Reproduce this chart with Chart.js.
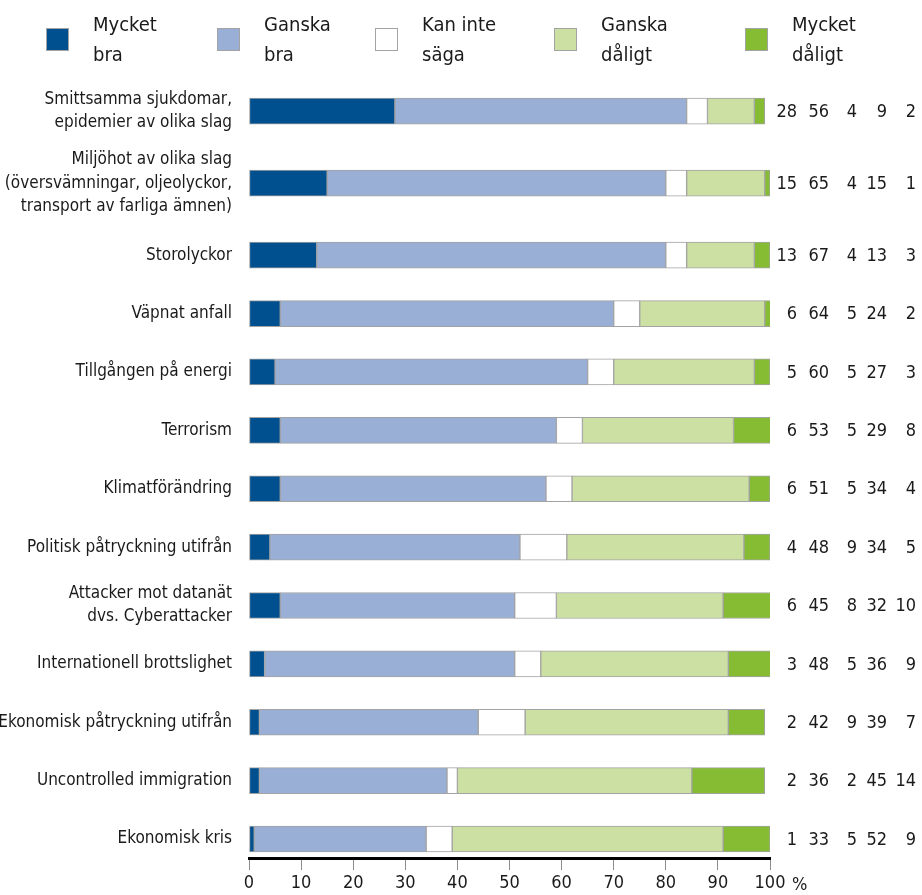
<!DOCTYPE html>
<html lang="sv">
<head>
<meta charset="utf-8">
<title>Förtroende för beredskapen</title>
<script src="https://cdn.jsdelivr.net/npm/chart.js@4/dist/chart.umd.min.js"></script>
<style>
  html, body { margin: 0; padding: 0; background: #ffffff; }
  #wrap { position: relative; width: 922px; height: 895px; }
</style>
</head>
<body>
<div id="wrap"><canvas id="chart"></canvas></div>
<script>
// Categories (top to bottom); arrays are multi-line labels
const categories = [
  ['Smittsamma sjukdomar,', 'epidemier av olika slag'],
  ['Miljöhot av olika slag', '(översvämningar, oljeolyckor,', 'transport av farliga ämnen)'],
  'Storolyckor',
  'Väpnat anfall',
  'Tillgången på energi',
  'Terrorism',
  'Klimatförändring',
  'Politisk påtryckning utifrån',
  ['Attacker mot datanät', 'dvs. Cyberattacker'],
  'Internationell brottslighet',
  'Ekonomisk påtryckning utifrån',
  'Uncontrolled immigration',
  'Ekonomisk kris'
];

// Answer shares, percent
const mycketBra    = [28, 15, 13,  6,  5,  6,  6,  4,  6,  3,  2,  2,  1];
const ganskaBra    = [56, 65, 67, 64, 60, 53, 51, 48, 45, 48, 42, 36, 33];
const kanInteSaga  = [ 4,  4,  4,  5,  5,  5,  5,  9,  8,  5,  9,  2,  5];
const ganskaDaligt = [ 9, 15, 13, 24, 27, 29, 34, 34, 32, 36, 39, 45, 52];
const mycketDaligt = [ 2,  1,  3,  2,  3,  8,  4,  5, 10,  9,  7, 14,  9];

const seriesNames = [['Mycket', 'bra'], ['Ganska', 'bra'], ['Kan inte', 'säga'], ['Ganska', 'dåligt'], ['Mycket', 'dåligt']];
const xTicks = [0, 10, 20, 30, 40, 50, 60, 70, 80, 90, 100];

const FONT = "'DejaVu Sans Condensed', 'DejaVu Sans', sans-serif";
const TEXT = '#1a1a1a';
const colors = ['#00508f', '#99afd5', '#ffffff', '#cde0a4', '#86bc33'];
const series = [mycketBra, ganskaBra, kanInteSaga, ganskaDaligt, mycketDaligt];

// Row positions: rows next to a three-line label get a bit more room
const lineCount = categories.map(c => Array.isArray(c) ? c.length : 1);
const rowPos = [];
categories.forEach((c, i) => {
  if (i === 0) { rowPos.push(0); return; }
  const extra = Math.max(lineCount[i - 1], lineCount[i]) >= 3 ? 0.233 : 0;
  rowPos.push(rowPos[i - 1] + 1 + extra);
});
const lastRow = rowPos[rowPos.length - 1];

const datasets = series.map((vals, s) => ({
  label: seriesNames[s].join(' '),
  data: vals.map((v, i) => ({ x: v, y: rowPos[i] })),
  backgroundColor: colors[s],
  borderColor: '#a3a3a3',
  borderWidth: 1,
  borderSkipped: false,
  barThickness: 26
}));

// Two-line legend above the plot and the value table to its right
const decorations = {
  id: 'decorations',
  afterDraw(chart) {
    const { ctx, chartArea } = chart;
    ctx.save();

    // legend
    ctx.font = '20px ' + FONT;
    const boxX = [46, 217, 375, 554, 745];
    seriesNames.forEach((lines, s) => {
      ctx.fillStyle = colors[s];
      ctx.fillRect(boxX[s], 28, 23, 23);
      ctx.strokeStyle = '#a3a3a3';
      ctx.lineWidth = 1;
      ctx.strokeRect(boxX[s] + 0.5, 28.5, 22, 22);
      ctx.fillStyle = TEXT;
      ctx.textAlign = 'left';
      ctx.textBaseline = 'alphabetic';
      ctx.fillText(lines[0], boxX[s] + 47, 31);
      ctx.fillText(lines[1], boxX[s] + 47, 61);
    });

    // value columns
    ctx.font = '18px ' + FONT;
    const yScale = chart.scales.y;
    const colRight = [27, 59, 87, 117, 146];
    ctx.textAlign = 'right';
    ctx.textBaseline = 'middle';
    categories.forEach((c, i) => {
      const y = yScale.getPixelForValue(rowPos[i]);
      series.forEach((vals, s) => {
        ctx.fillText(String(vals[i]), chartArea.right + colRight[s], y + 1);
      });
    });

    // unit after the last x tick
    ctx.textAlign = 'left';
    ctx.textBaseline = 'middle';
    ctx.fillText('%', chartArea.right + 22, 885);
    ctx.restore();
  }
};

new Chart(document.getElementById('chart'), {
  type: 'bar',
  data: { datasets },
  options: {
    indexAxis: 'y',
    responsive: true,
    maintainAspectRatio: false,
    animation: false,
    layout: { padding: { top: 82, right: 152, bottom: 0, left: 0 } },
    plugins: {
      legend: { display: false },
      tooltip: { enabled: false }
    },
    scales: {
      x: {
        type: 'linear',
        stacked: true,
        min: 0,
        max: 100,
        afterBuildTicks: axis => { axis.ticks = xTicks.map(v => ({ value: v })); },
        afterFit: axis => { axis.height = 37; axis.paddingLeft = 0; axis.paddingRight = 0; },
        grid: { display: true, drawOnChartArea: false, drawTicks: true, tickLength: 12, tickColor: '#8c8c8c', tickWidth: 1 },
        border: { display: true, color: '#000000', width: 3 },
        ticks: { color: TEXT, font: { family: FONT, size: 18 }, padding: 3, maxRotation: 0 }
      },
      y: {
        type: 'linear',
        stacked: true,
        reverse: true,
        offset: false,
        min: -0.5,
        max: lastRow + 0.325,
        afterBuildTicks: axis => { axis.ticks = rowPos.map(v => ({ value: v })); },
        afterFit: axis => { axis.width = 249; axis.paddingTop = 0; axis.paddingBottom = 0; },
        grid: { display: false, offset: false },
        border: { display: false },
        ticks: {
          autoSkip: false,
          color: TEXT,
          padding: 9,
          font: { family: FONT, size: 17, lineHeight: 1.36 },
          callback: (value, index) => categories[index]
        }
      }
    }
  },
  plugins: [decorations]
});
</script>
</body>
</html>
